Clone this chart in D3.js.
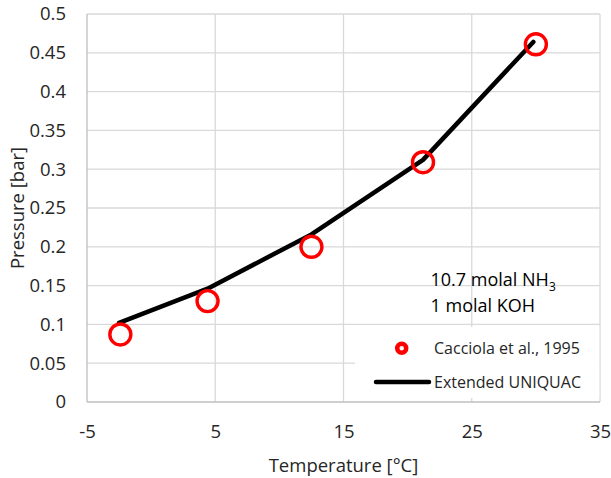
<!DOCTYPE html>
<html>
<head>
<meta charset="utf-8">
<script src="https://cdn.jsdelivr.net/npm/d3@7"></script>
<style>
  html, body { margin: 0; padding: 0; background: #fff; }
  svg { display: block; font-family: "Open Sans", "DejaVu Sans", sans-serif; }
</style>
</head>
<body>
<svg id="chart" width="611" height="478"></svg>
<script>
// ---- data ----
const expTemp = [-2.4, 4.4, 12.5, 21.2, 30.0];
const expPressure = [0.087, 0.130, 0.200, 0.309, 0.461];
const modelTemp = [-2.5, 4.4, 12.5, 21.2, 29.8];
const modelPressure = [0.102, 0.146, 0.216, 0.312, 0.464];
const xTicks = [-5, 5, 15, 25, 35];
const yTicks = [0, 0.05, 0.1, 0.15, 0.2, 0.25, 0.3, 0.35, 0.4, 0.45, 0.5];
const legendLabels = ["Cacciola et al., 1995", "Extended UNIQUAC"];
const noteLines = ["10.7 molal NH", "3", "1 molal KOH"];
const xTitle = "Temperature [°C]";
const yTitle = "Pressure [bar]";

// ---- layout ----
const svg = d3.select("#chart");
const pLeft = 87, pRight = 600, pTop = 14, pBottom = 402;
const x = d3.scaleLinear().domain([-5, 35]).range([pLeft, pRight]);
const y = d3.scaleLinear().domain([0, 0.5]).range([pBottom, pTop]);

// gridlines
const grid = svg.append("g");
grid.selectAll("line.h").data(yTicks.filter(d => d > 0)).join("line")
  .attr("x1", pLeft).attr("x2", pRight)
  .attr("y1", d => y(d)).attr("y2", d => y(d))
  .attr("stroke", "#d9d9d9").attr("stroke-width", 1.3);
grid.selectAll("line.v").data(xTicks.filter(d => d > -5)).join("line")
  .attr("y1", pTop).attr("y2", pBottom)
  .attr("x1", d => x(d)).attr("x2", d => x(d))
  .attr("stroke", "#d9d9d9").attr("stroke-width", 1.3);

// axis lines
svg.append("line").attr("x1", pLeft).attr("x2", pLeft).attr("y1", pTop).attr("y2", pBottom)
  .attr("stroke", "#bfbfbf").attr("stroke-width", 1.3);
svg.append("line").attr("x1", pLeft).attr("x2", pRight).attr("y1", pBottom).attr("y2", pBottom)
  .attr("stroke", "#bfbfbf").attr("stroke-width", 1.3);

// axes (labels only)
const yAxis = svg.append("g").attr("transform", `translate(${pLeft},0)`)
  .call(d3.axisLeft(y).tickValues(yTicks).tickSize(0).tickPadding(21).tickFormat(d => String(+d.toFixed(2))));
yAxis.select(".domain").remove();
yAxis.selectAll("text").attr("font-size", 18.5).attr("fill", "#262626").attr("font-family", "Open Sans, sans-serif");

const xAxis = svg.append("g").attr("transform", `translate(0,${pBottom})`)
  .call(d3.axisBottom(x).tickValues(xTicks).tickSize(0).tickPadding(23).tickFormat(d => String(d)));
xAxis.select(".domain").remove();
xAxis.selectAll("text").attr("font-size", 18.5).attr("fill", "#262626").attr("font-family", "Open Sans, sans-serif");

// titles
svg.append("text").attr("x", (pLeft + pRight) / 2).attr("y", 472)
  .attr("text-anchor", "middle").attr("font-size", 18.5).attr("fill", "#262626").text(xTitle);
svg.append("text").attr("transform", `translate(24,${(pTop + pBottom) / 2}) rotate(-90)`)
  .attr("text-anchor", "middle").attr("font-size", 18.5).attr("fill", "#262626").text(yTitle);

// model line
const modelData = modelTemp.map((t, i) => [t, modelPressure[i]]);
svg.append("path").datum(modelData)
  .attr("d", d3.line().x(d => x(d[0])).y(d => y(d[1])))
  .attr("fill", "none").attr("stroke", "#000").attr("stroke-width", 4.5)
  .attr("stroke-linejoin", "round").attr("stroke-linecap", "round");

// experimental points
const expData = expTemp.map((t, i) => [t, expPressure[i]]);
svg.append("g").selectAll("circle").data(expData).join("circle")
  .attr("cx", d => x(d[0])).attr("cy", d => y(d[1])).attr("r", 10.5)
  .attr("fill", "none").attr("stroke", "#ff0000").attr("stroke-width", 3.4);

// annotation
const note = svg.append("text").attr("x", 430.5).attr("y", 285.5)
  .attr("font-size", 18).attr("fill", "#000");
note.append("tspan").text(noteLines[0]);
note.append("tspan").attr("dy", 5).attr("font-size", 12).text(noteLines[1]);
svg.append("text").attr("x", 430.5).attr("y", 311.5)
  .attr("font-size", 18).attr("fill", "#000").text(noteLines[2]);

// legend
const lg = svg.append("g");
lg.append("rect").attr("x", 355).attr("y", 327).attr("width", pRight - 355 - 0.7).attr("height", 71)
  .attr("fill", "#fff");
lg.append("circle").attr("cx", 401.7).attr("cy", 348.3).attr("r", 4.5)
  .attr("fill", "none").attr("stroke", "#ff0000").attr("stroke-width", 4.5);
lg.append("line").attr("x1", 376).attr("x2", 429).attr("y1", 382).attr("y2", 382)
  .attr("stroke", "#000").attr("stroke-width", 4.5).attr("stroke-linecap", "round");
lg.selectAll("text").data(legendLabels).join("text")
  .attr("x", 434).attr("y", (d, i) => 354 + i * 34)
  .attr("font-size", 16).attr("fill", "#262626").text(d => d);
</script>
</body>
</html>
